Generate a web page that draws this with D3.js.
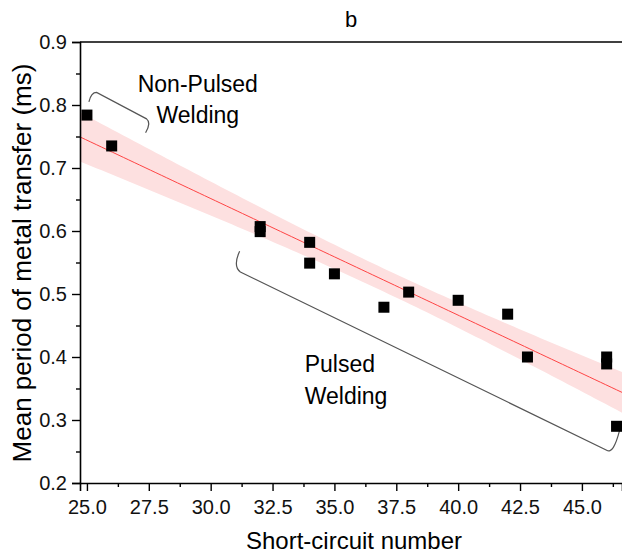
<!DOCTYPE html>
<html>
<head>
<meta charset="utf-8">
<script src="https://cdn.jsdelivr.net/npm/d3@7"></script>
<style>
  body { margin: 0; background: #fff; }
  svg { font-family: "Liberation Sans", Arial, sans-serif; }
</style>
</head>
<body>
<div id="chart"></div>
<script>
// short-circuit number vs mean period of metal transfer (ms)
const shortCircuit = [25, 26, 32, 32, 34, 34, 35, 37, 38, 40, 42, 42.8, 46, 46, 46.4];
const meanPeriod = [0.784, 0.735, 0.607, 0.599, 0.582, 0.549, 0.532, 0.479, 0.503, 0.49, 0.468, 0.4, 0.4, 0.389, 0.29];

const xTicks = [25, 27.5, 30, 32.5, 35, 37.5, 40, 42.5, 45];
const yTicks = [0.2, 0.3, 0.4, 0.5, 0.6, 0.7, 0.8, 0.9];

// annotation labels (data coords)
const noteLines = [
  { text: "Non-Pulsed", x: 29.48, y: 0.821, anchor: "middle" },
  { text: "Welding", x: 29.48, y: 0.771, anchor: "middle" },
  { text: "Pulsed", x: 33.8, y: 0.376, anchor: "start" },
  { text: "Welding", x: 33.8, y: 0.325, anchor: "start" }
];

// bracket outlines: start, [ctrl, to], line-to, [ctrl, to]
const bracketNonPulsed = [[25.08, 0.805], [25.17, 0.820], [25.39, 0.820], [27.41, 0.778], [27.61, 0.772], [27.37, 0.756]];
const bracketPulsed = [[31.17, 0.568], [30.89, 0.544], [31.2, 0.535], [46.0, 0.252], [46.27, 0.245], [46.52, 0.283]];

const W = 622, H = 557;
const margin = { top: 42, right: 0, bottom: 74, left: 80 };
const width = W - margin.left - margin.right;
const height = H - margin.top - margin.bottom;

const svg = d3.select("#chart").append("svg")
  .attr("width", W)
  .attr("height", H);

const g = svg.append("g")
  .attr("transform", "translate(" + margin.left + "," + margin.top + ")");

const x = d3.scaleLinear().domain([24.72, 46.62]).range([0, width]);
const y = d3.scaleLinear().domain([0.2, 0.9]).range([height, 0]);

// linear fit + 95% confidence band, from the data
const n = shortCircuit.length;
const mx = d3.mean(shortCircuit), my = d3.mean(meanPeriod);
let sxx = 0, sxy = 0;
shortCircuit.forEach((v, i) => { sxx += (v - mx) ** 2; sxy += (v - mx) * (meanPeriod[i] - my); });
const slope = sxy / sxx, icpt = my - slope * mx;
let sse = 0;
shortCircuit.forEach((v, i) => { sse += (meanPeriod[i] - (icpt + slope * v)) ** 2; });
const se = Math.sqrt(sse / (n - 2));
const tval = 2.160; // t(0.975, 13)
const fitX = d3.range(0, 101).map(k => x.domain()[0] + k * (x.domain()[1] - x.domain()[0]) / 100);
const fitRows = fitX.map(v => {
  const yh = icpt + slope * v;
  const hw = tval * se * Math.sqrt(1 / n + (v - mx) ** 2 / sxx);
  return { x: v, y: yh, lo: yh - hw, hi: yh + hw };
});

g.append("path")
  .datum(fitRows)
  .attr("fill", "#fde0e0")
  .attr("d", d3.area().x(d => x(d.x)).y0(d => y(d.lo)).y1(d => y(d.hi)));

g.append("path")
  .datum(fitRows)
  .attr("fill", "none")
  .attr("stroke", "#f44")
  .attr("stroke-width", 1)
  .attr("d", d3.line().x(d => x(d.x)).y(d => y(d.y)));

// brackets
function bracketPath(p) {
  const path = d3.path();
  path.moveTo(x(p[0][0]), y(p[0][1]));
  path.quadraticCurveTo(x(p[1][0]), y(p[1][1]), x(p[2][0]), y(p[2][1]));
  path.lineTo(x(p[3][0]), y(p[3][1]));
  path.quadraticCurveTo(x(p[4][0]), y(p[4][1]), x(p[5][0]), y(p[5][1]));
  return path.toString();
}
[bracketNonPulsed, bracketPulsed].forEach(b => {
  g.append("path")
    .attr("d", bracketPath(b))
    .attr("fill", "none")
    .attr("stroke", "#555")
    .attr("stroke-width", 1.2);
});

// points
const sq = 11;
g.selectAll("rect.pt")
  .data(shortCircuit)
  .enter().append("rect")
  .attr("class", "pt")
  .attr("x", d => x(d) - sq / 2)
  .attr("y", (d, i) => y(meanPeriod[i]) - sq / 2)
  .attr("width", sq)
  .attr("height", sq)
  .attr("fill", "#000");

// annotation text
g.selectAll("text.note")
  .data(noteLines)
  .enter().append("text")
  .attr("class", "note")
  .attr("x", d => x(d.x))
  .attr("y", d => y(d.y))
  .attr("text-anchor", d => d.anchor)
  .style("font-size", "23px")
  .text(d => d.text);

// axes
g.append("g")
  .attr("transform", "translate(0," + height + ")")
  .call(d3.axisBottom(x).tickValues(xTicks).tickFormat(d3.format(".1f")).tickSize(8).tickPadding(9));
g.append("g")
  .attr("transform", "translate(0," + height + ")")
  .call(d3.axisBottom(x).tickValues(xTicks.map(v => v + 1.25)).tickFormat("").tickSize(4))
  .call(a => a.select(".domain").remove());

g.append("g")
  .call(d3.axisLeft(y).tickValues(yTicks).tickFormat(d3.format(".1f")).tickSize(8).tickPadding(5));
g.append("g")
  .call(d3.axisLeft(y).tickValues(yTicks.slice(0, -1).map(v => v + 0.05)).tickFormat("").tickSize(4))
  .call(a => a.select(".domain").remove());

g.selectAll(".domain").attr("stroke", "#000").attr("stroke-width", 1.6);
g.selectAll(".tick line").attr("stroke", "#000").attr("stroke-width", 1.4);
g.selectAll(".tick text").style("font-size", "20px").attr("fill", "#111");

// top frame line
g.append("line")
  .attr("x1", 0).attr("x2", width)
  .attr("y1", 0).attr("y2", 0)
  .attr("stroke", "#000")
  .attr("stroke-width", 1.6);

// titles
svg.append("text")
  .attr("x", 351)
  .attr("y", 27)
  .attr("text-anchor", "middle")
  .style("font-size", "22px")
  .text("b");

svg.append("text")
  .attr("x", 354)
  .attr("y", 549)
  .attr("text-anchor", "middle")
  .style("font-size", "24px")
  .text("Short-circuit number");

svg.append("text")
  .attr("transform", "translate(31," + 263 + ") rotate(-90)")
  .attr("text-anchor", "middle")
  .style("font-size", "26px")
  .text("Mean period of metal transfer (ms)");
</script>
</body>
</html>
